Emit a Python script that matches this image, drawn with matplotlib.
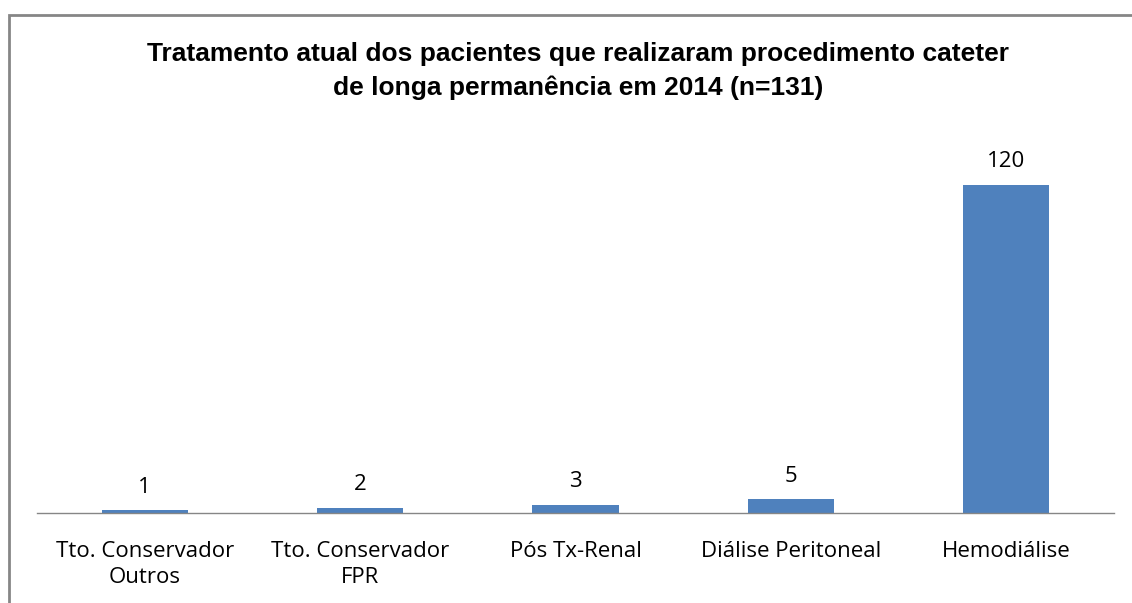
import matplotlib.pyplot as plt
from matplotlib.patches import Rectangle

# Data
categorias = ['Tto. Conservador\nOutros', 'Tto. Conservador\nFPR', 'Pós Tx-Renal',
              'Diálise Peritoneal', 'Hemodiálise']
pacientes = [1, 2, 3, 5, 120]

titulo = ('Tratamento atual dos pacientes que realizaram procedimento cateter\n'
          'de longa permanência em 2014 (n=131)')

W, H = 1132, 603
fig = plt.figure(figsize=(W / 100, H / 100), dpi=100)

# chart area border (gray frame, cut off on the right and bottom)
fig.patches.append(Rectangle((8.5 / W, -0.1), 1.2, 1.1 - 15.5 / H,
                             transform=fig.transFigure, fill=False,
                             edgecolor='#868686', lw=2.0))

ax = fig.add_axes([37 / W, 1 - 513 / H, (1114 - 37) / W, (513 - 130) / H])
x = range(len(categorias))
bars = ax.bar(x, pacientes, width=0.40, color='#4F81BD')

ax.set_xlim(-0.5, len(categorias) - 0.5)
ax.set_ylim(0, 140)
ax.set_yticks([])
for s in ['left', 'right', 'top']:
    ax.spines[s].set_visible(False)
ax.spines['bottom'].set_color('#868686')
ax.spines['bottom'].set_linewidth(1.0)

fonte = ['Open Sans', 'DejaVu Sans']
ax.set_xticks(list(x))
ax.set_xticklabels(categorias, fontsize=16, family=fonte, linespacing=1.35)
ax.tick_params(axis='x', length=0, pad=20)

for b, v in zip(bars, pacientes):
    ax.annotate(str(v), (b.get_x() + b.get_width() / 2, v),
                xytext=(0, 9), textcoords='offset points',
                ha='center', va='bottom', fontsize=16, family=fonte)

fig.text(578 / W, 1 - 71 / H, titulo, ha='center', va='center',
         fontsize=19, fontweight='bold', family='Liberation Sans',
         linespacing=1.5)

fig.savefig('out.png', dpi=100)
